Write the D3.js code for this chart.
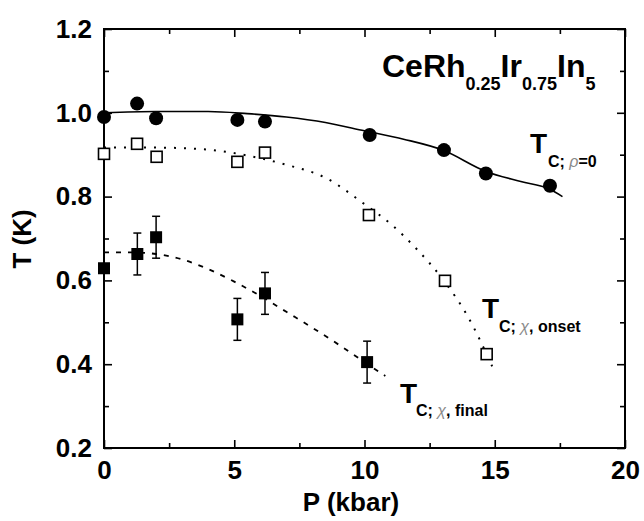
<!DOCTYPE html>
<html>
<head>
<meta charset="utf-8">
<script src="https://cdn.jsdelivr.net/npm/d3@7"></script>
<style>
  html, body { margin: 0; padding: 0; background: #fff; }
  svg { display: block; font-family: "Liberation Sans", Arial, Helvetica, sans-serif; }
</style>
</head>
<body>
<svg id="chart" width="644" height="521"></svg>
<script>
// T_c(P) of CeRh0.25Ir0.75In5 from three criteria

// resistive transition (rho = 0), filled circles
const pressureRho = [0, 1.27, 2.0, 5.12, 6.18, 10.2, 13.05, 14.66, 17.12];
const tcRho       = [0.99, 1.022, 0.987, 0.983, 0.979, 0.947, 0.911, 0.855, 0.826];

// susceptibility onset, open squares
const pressureOnset = [0, 1.27, 2.02, 5.12, 6.18, 10.17, 13.09, 14.69];
const tcOnset       = [0.902, 0.926, 0.895, 0.883, 0.905, 0.756, 0.599, 0.424];

// susceptibility final, filled squares with error bars
const pressureFinal = [0, 1.28, 2.0, 5.12, 6.18, 10.1];
const tcFinal       = [0.629, 0.663, 0.703, 0.507, 0.569, 0.405];
const errFinal      = [0, 0.05, 0.05, 0.05, 0.05, 0.05];

// guide-to-the-eye curves
const fitRhoP   = [0, 2, 4, 5.5, 7, 8.5, 10, 11.5, 13, 14.66, 16, 17.1, 17.6];
const fitRhoT   = [1.0, 1.003, 1.003, 0.998, 0.99, 0.977, 0.957, 0.937, 0.911, 0.86, 0.836, 0.818, 0.80];
const fitOnsetP = [0, 2, 4, 5.5, 7, 8.5, 10, 11, 12, 13, 14, 14.9];
const fitOnsetT = [0.917, 0.917, 0.912, 0.898, 0.876, 0.845, 0.782, 0.735, 0.675, 0.603, 0.51, 0.395];
const fitFinalP = [0, 1, 2, 3, 4, 5, 6, 7, 8, 9, 10, 10.8];
const fitFinalT = [0.667, 0.667, 0.663, 0.65, 0.627, 0.597, 0.563, 0.525, 0.487, 0.447, 0.405, 0.372];

// axis ticks
const xMajorTicks = [0, 5, 10, 15, 20];
const xMinorTicks = [2.5, 7.5, 12.5, 17.5];
const yMajorTicks = [0.2, 0.4, 0.6, 0.8, 1.0, 1.2];
const yMinorTicks = [0.3, 0.5, 0.7, 0.9, 1.1];

const svg = d3.select("#chart");
const m = { left: 104, right: 625, top: 29, bottom: 448 };

const x = d3.scaleLinear().domain([0, 20]).range([m.left, m.right]);
const y = d3.scaleLinear().domain([0.2, 1.2]).range([m.bottom, m.top]);

// ---- axes (ticks point inward on all four sides) ----
function styleAxis(g) {
  g.select(".domain").remove();
  g.selectAll(".tick line").attr("stroke", "#000").attr("stroke-width", 1.6);
  g.selectAll(".tick text")
    .attr("fill", "#000")
    .style("font-size", "26px")
    .style("font-weight", "bold");
}

const fmtY = d3.format(".1f");

svg.append("g").attr("transform", `translate(0,${m.bottom})`)
  .call(d3.axisBottom(x).tickValues(xMajorTicks).tickSize(-8).tickPadding(13).tickFormat(d3.format("d")))
  .call(styleAxis);
svg.append("g").attr("transform", `translate(0,${m.bottom})`)
  .call(d3.axisBottom(x).tickValues(xMinorTicks).tickSize(-5).tickFormat(""))
  .call(styleAxis);
svg.append("g").attr("transform", `translate(0,${m.top})`)
  .call(d3.axisTop(x).tickValues(xMajorTicks).tickSize(-8).tickFormat(""))
  .call(styleAxis);
svg.append("g").attr("transform", `translate(0,${m.top})`)
  .call(d3.axisTop(x).tickValues(xMinorTicks).tickSize(-5).tickFormat(""))
  .call(styleAxis);

svg.append("g").attr("transform", `translate(${m.left},0)`)
  .call(d3.axisLeft(y).tickValues(yMajorTicks).tickSize(-8).tickPadding(12).tickFormat(fmtY))
  .call(styleAxis);
svg.append("g").attr("transform", `translate(${m.left},0)`)
  .call(d3.axisLeft(y).tickValues(yMinorTicks).tickSize(-5).tickFormat(""))
  .call(styleAxis);
svg.append("g").attr("transform", `translate(${m.right},0)`)
  .call(d3.axisRight(y).tickValues(yMajorTicks).tickSize(-8).tickFormat(""))
  .call(styleAxis);
svg.append("g").attr("transform", `translate(${m.right},0)`)
  .call(d3.axisRight(y).tickValues(yMinorTicks).tickSize(-5).tickFormat(""))
  .call(styleAxis);

// frame
svg.append("rect")
  .attr("x", m.left).attr("y", m.top)
  .attr("width", m.right - m.left).attr("height", m.bottom - m.top)
  .attr("fill", "none").attr("stroke", "#000").attr("stroke-width", 2);

// axis titles
svg.append("text")
  .attr("x", 351).attr("y", 511)
  .attr("text-anchor", "middle")
  .style("font-size", "26px").style("font-weight", "bold")
  .text("P (kbar)");
svg.append("text")
  .attr("transform", "translate(31,239) rotate(-90)")
  .attr("text-anchor", "middle")
  .style("font-size", "26px").style("font-weight", "bold")
  .text("T (K)");

// ---- guide curves ----
const pairs = (ps, ts) => ps.map((p, i) => [p, ts[i]]);
const line = d3.line().x(d => x(d[0])).y(d => y(d[1])).curve(d3.curveMonotoneX);

svg.append("path").datum(pairs(fitRhoP, fitRhoT))
  .attr("d", line).attr("fill", "none").attr("stroke", "#000").attr("stroke-width", 1.6);
svg.append("path").datum(pairs(fitOnsetP, fitOnsetT))
  .attr("d", line).attr("fill", "none").attr("stroke", "#000").attr("stroke-width", 2)
  .attr("stroke-dasharray", "2,8");
svg.append("path").datum(pairs(fitFinalP, fitFinalT))
  .attr("d", line).attr("fill", "none").attr("stroke", "#000").attr("stroke-width", 1.8)
  .attr("stroke-dasharray", "5,7");

// ---- error bars ----
const eb = svg.append("g").attr("stroke", "#000").attr("stroke-width", 1.5);
pressureFinal.forEach((p, i) => {
  const e = errFinal[i];
  if (!e) return;
  const cx = x(p), y1 = y(tcFinal[i] + e), y2 = y(tcFinal[i] - e);
  eb.append("line").attr("x1", cx).attr("x2", cx).attr("y1", y1).attr("y2", y2);
  eb.append("line").attr("x1", cx - 4).attr("x2", cx + 4).attr("y1", y1).attr("y2", y1);
  eb.append("line").attr("x1", cx - 4).attr("x2", cx + 4).attr("y1", y2).attr("y2", y2);
});

// ---- markers ----
svg.append("g").selectAll("circle")
  .data(pairs(pressureRho, tcRho)).join("circle")
  .attr("cx", d => x(d[0])).attr("cy", d => y(d[1])).attr("r", 7)
  .attr("fill", "#000");

const sqOpen = 11;
svg.append("g").selectAll("rect")
  .data(pairs(pressureOnset, tcOnset)).join("rect")
  .attr("x", d => x(d[0]) - sqOpen / 2).attr("y", d => y(d[1]) - sqOpen / 2)
  .attr("width", sqOpen).attr("height", sqOpen)
  .attr("fill", "#fff").attr("stroke", "#000").attr("stroke-width", 1.6);

const sqFill = 12;
svg.append("g").selectAll("rect")
  .data(pairs(pressureFinal, tcFinal)).join("rect")
  .attr("x", d => x(d[0]) - sqFill / 2).attr("y", d => y(d[1]) - sqFill / 2)
  .attr("width", sqFill).attr("height", sqFill)
  .attr("fill", "#000");

// ---- annotations ----
const compound = svg.append("text")
  .attr("x", 382).attr("y", 77)
  .style("font-size", "32px").style("font-weight", "bold");
[["CeRh", 0], ["0.25", 1], ["Ir", 0], ["0.75", 1], ["In", 0], ["5", 1]].forEach(([t, sub], i, arr) => {
  const prevSub = i > 0 ? arr[i - 1][1] : 0;
  const dy = sub && !prevSub ? 13 : (!sub && prevSub ? -13 : 0);
  compound.append("tspan")
    .attr("dy", dy)
    .style("font-size", sub ? "18px" : "32px")
    .text(t);
});

function tcLabel(tx, ty, sx, sy, parts) {
  svg.append("text").attr("x", tx).attr("y", ty)
    .style("font-size", "28px").style("font-weight", "bold").text("T");
  const s = svg.append("text").attr("x", sx).attr("y", sy)
    .style("font-size", "16px").style("font-weight", "bold");
  parts.forEach(([t, grey]) => {
    const sp = s.append("tspan").text(t);
    if (grey) sp.attr("fill", "#8a8a8a").style("font-weight", "normal").style("font-style", "italic");
  });
}

tcLabel(530, 153, 548, 167, [["C; ", 0], ["ρ", 1], ["=0", 0]]);
tcLabel(482, 318, 499, 332, [["C; ", 0], ["χ", 1], [", onset", 0]]);
tcLabel(400, 403, 416, 416, [["C; ", 0], ["χ", 1], [", final", 0]]);
</script>
</body>
</html>
